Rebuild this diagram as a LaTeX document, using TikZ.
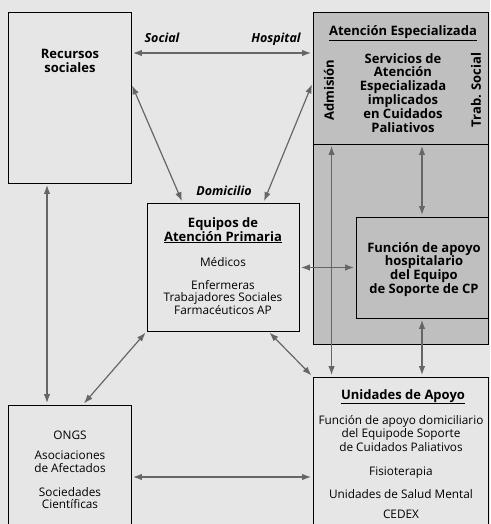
\documentclass[tikz,border=0pt]{standalone}
\usepackage{fontspec}
\setmainfont{Open Sans}
\usetikzlibrary{arrows.meta}
\definecolor{fondo}{HTML}{E6E6E6}
\definecolor{gris}{HTML}{BFBFBF}
\definecolor{flecha}{HTML}{666666}

\begin{document}
\begin{tikzpicture}[
    x=1pt, y=-1pt,
    caja/.style={draw, line width=0.9pt, inner sep=0pt, fill=fondo},
    cajagris/.style={caja, fill=gris},
    flechas/.style={<->, line width=1.2pt, draw=flecha, >={Latex[length=9pt,width=6.5pt]}, shorten <=1.5pt, shorten >=1.5pt},
    titulo/.style={font=\fontsize{13}{14}\selectfont\bfseries, align=center, inner sep=0pt},
    texto/.style={font=\fontsize{11.8}{12.5}\selectfont, align=center, inner sep=0pt},
    etiqueta/.style={font=\fontsize{12.5}{13}\selectfont\bfseries\itshape, inner sep=0pt}
]
\useasboundingbox (0,0) rectangle (490,524);
\clip (0,0) rectangle (490,524);
\fill[fondo] (0,0) rectangle (490,524);

% cajas
\node[cajagris, minimum width=175pt, minimum height=200pt] (hos) at (400.5,244) {};
\node[cajagris, minimum width=175pt, minimum height=132pt] (esp) at (400.5,78) {};
\node[cajagris, minimum width=132pt, minimum height=101pt] (fun) at (422,267.5) {};
\node[caja, minimum width=123pt, minimum height=171pt] (rec) at (69.5,97.5) {};
\node[caja, minimum width=123pt, minimum height=122pt] (ong) at (69.5,466) {};
\node[caja, minimum width=152pt, minimum height=128pt] (eap) at (223,267) {};
\node[caja, minimum width=175pt, minimum height=150pt] (uni) at (400.5,452) {};

% flechas
\coordinate (arriba) at (0,53);
\draw[flechas] (rec.east |- arriba) -- (esp.west |- arriba);
\draw[flechas] ([yshift=13.5pt]rec.east) -- ([xshift=36pt]eap.north west);
\draw[flechas] ([yshift=-5pt]esp.west) -- ([xshift=-36pt]eap.north east);
\draw[flechas] (eap.east |- fun.west) -- (fun.west);
\draw[flechas] (fun.north) -- (fun.north |- esp.south);
\draw[flechas] ([xshift=19pt]esp.south west) -- ([xshift=19pt]uni.north west);
\draw[flechas] (fun.south) -- (fun.south |- uni.north);
\draw[flechas] ([xshift=-31pt]eap.south east) -- (uni.north west);
\draw[flechas] (eap.south west) -- ([xshift=13.5pt]ong.north);
\draw[flechas] ([xshift=-22.5pt]rec.south) -- ([xshift=-22.5pt]ong.north);
\draw[flechas] ([yshift=-11pt]ong.east) -- ([yshift=-11pt]ong.east -| uni.west);

\node[etiqueta, anchor=base] (soc) at (162,43) {Social};
\node[etiqueta, anchor=base] (hsp) at (276,43) {Hospital};
\node[etiqueta, anchor=base] (dom) at (224,195) {Domicilio};

% textos
\node[titulo, anchor=north] (trec) at (70,49) {Recursos\\sociales};

\node[titulo, anchor=base] (tesp) at (403,36) {\underline{Atención Especializada}};
\node[titulo, anchor=north, font=\fontsize{13}{13.8}\selectfont\bfseries] (sesp) at (403,53)
    {Servicios de\\Atención\\Especializada\\implicados\\en Cuidados\\Paliativos};
\node[titulo, rotate=90] (adm) at (329,90) {Admisión};
\node[titulo, rotate=90] (tra) at (476,90) {Trab. Social};

\node[titulo, anchor=north] (teap) at (223,217) {Equipos de\\\underline{Atención Primaria}};
\node[texto, anchor=base] (med) at (223,266) {Médicos};
\node[texto, anchor=north] (enf) at (223,280) {Enfermeras\\Trabajadores Sociales\\Farmacéuticos AP};

\node[titulo, anchor=north, font=\fontsize{13}{13.7}\selectfont\bfseries] (tfun) at (424,242)
    {Función de apoyo\\hospitalario\\del Equipo\\de Soporte de CP};

\node[titulo, anchor=base] (tuni) at (403,399) {\underline{Unidades de Apoyo}};
\node[texto, anchor=north, font=\fontsize{11.8}{13.5}\selectfont] (dom2) at (401,415)
    {Función de apoyo domiciliario\\del Equipode Soporte\\de Cuidados Paliativos};
\node[texto, anchor=base] (fis) at (401,475) {Fisioterapia};
\node[texto, anchor=base] (usm) at (401,498) {Unidades de Salud Mental};
\node[texto, anchor=base] (ced) at (401,518) {CEDEX};

\node[texto, anchor=base] (tong) at (70,439) {ONGS};
\node[texto, anchor=north] (aso) at (70,451) {Asociaciones\\de Afectados};
\node[texto, anchor=north] (soci) at (70,487) {Sociedades\\Científicas};

\end{tikzpicture}
\end{document}
